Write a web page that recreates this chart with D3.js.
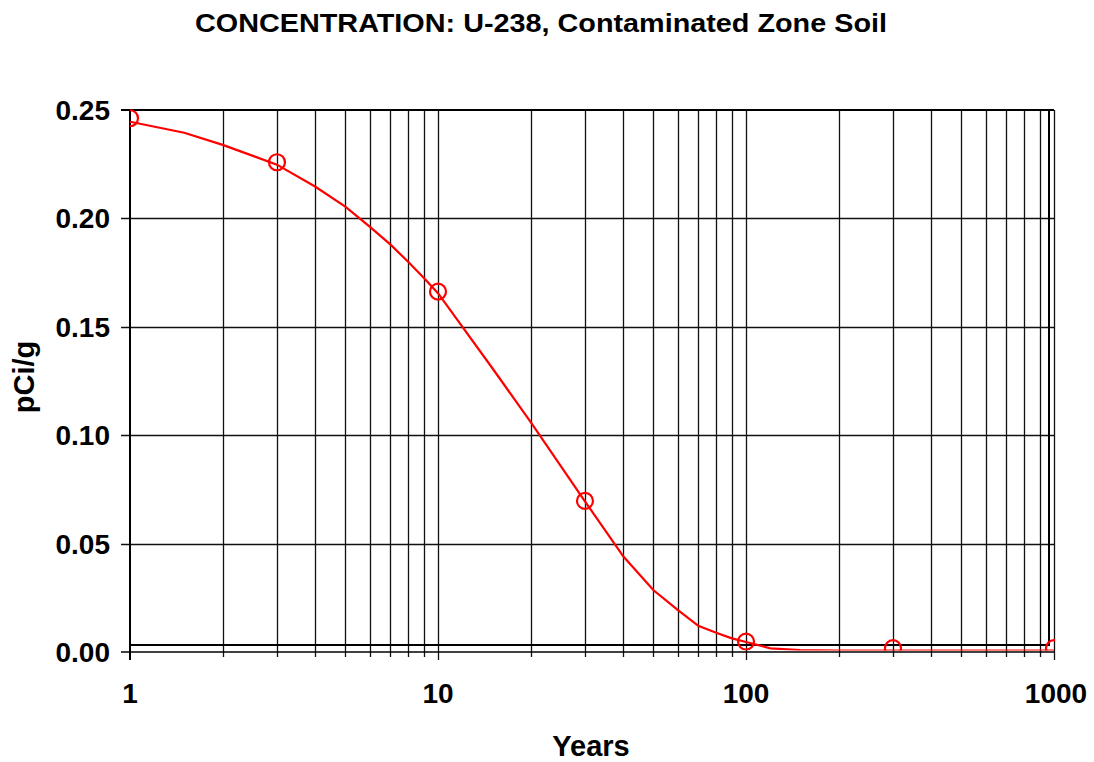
<!DOCTYPE html>
<html>
<head>
<meta charset="utf-8">
<script src="https://cdn.jsdelivr.net/npm/d3@7"></script>
<style>
  body { margin: 0; background: #fff; }
  text { font-family: "Liberation Sans", Arial, sans-serif; font-weight: bold; fill: #000; }
</style>
</head>
<body>
<svg id="chart"></svg>
<script>
// curve
const years = [1, 1.5, 2, 3, 4, 5, 6, 7, 8, 9, 10, 15, 20, 30, 40, 50, 60, 70, 80, 90, 100, 120, 150, 200, 300, 500, 1000];
const conc = [0.2446, 0.2395, 0.2339, 0.2248, 0.2146, 0.2054, 0.1962, 0.1880, 0.1800, 0.1725, 0.1655,
  0.1310, 0.1060, 0.0695, 0.0440, 0.0286, 0.0194, 0.0121, 0.0089, 0.0063, 0.0046, 0.0017, 0.0009, 0.0006,
  0.0006, 0.0006, 0.0006];

// circle markers
const markerYears = [1, 3, 10, 30, 100, 300, 1000];
const markerConc = [0.2462, 0.2259, 0.1662, 0.0697, 0.0048, 0.0018, 0.0018];

const yTicks = [0, 0.05, 0.10, 0.15, 0.20, 0.25];
const xMajor = [1, 10, 100, 1000];

class LogChart {
  margin = { top: 110, right: 40, bottom: 110, left: 130 };

  constructor(svg, width = 924, height = 542) {
    this.svg = svg;
    this.width = width;
    this.height = height;
  }

  initialize() {
    this.svg = d3.select(this.svg)
      .attr("width", 1094)
      .attr("height", 762);
    this.container = this.svg.append("g")
      .attr("transform", `translate(${this.margin.left}, ${this.margin.top})`);

    this.xScale = d3.scaleLog().domain([1, 1000]).range([0, this.width]);
    this.yScale = d3.scaleLinear().domain([0, 0.25]).range([this.height, 0]);
  }

  update() {
    const x = this.xScale, y = this.yScale, g = this.container;

    // all the log grid lines 2..9 per decade plus the decades
    const minor = [];
    [1, 10, 100].forEach(d => { for (let k = 2; k <= 9; k++) minor.push(k * d); });
    const vlines = minor.concat(xMajor.slice(1));

    g.selectAll(".vgrid")
      .data(vlines)
      .join("line")
      .attr("class", "vgrid")
      .attr("x1", d => Math.round(x(d)) + 0.5)
      .attr("x2", d => Math.round(x(d)) + 0.5)
      .attr("y1", 0)
      .attr("y2", d => this.height + (xMajor.includes(d) ? 8 : 5))
      .attr("stroke", "#111")
      .attr("stroke-width", 1.3);

    g.selectAll(".hgrid")
      .data(yTicks.slice(1, -1))
      .join("line")
      .attr("class", "hgrid")
      .attr("x1", -9)
      .attr("x2", this.width)
      .attr("y1", d => Math.round(y(d)) + 0.5)
      .attr("y2", d => Math.round(y(d)) + 0.5)
      .attr("stroke", "#111")
      .attr("stroke-width", 1.3);

    // frame (inner box) + axes
    g.append("rect")
      .attr("x", 0).attr("y", 0)
      .attr("width", this.width - 5)
      .attr("height", this.height - 7)
      .attr("fill", "none")
      .attr("stroke", "#000")
      .attr("stroke-width", 2);
    g.append("line")
      .attr("x1", -9).attr("x2", this.width)
      .attr("y1", y(0.25)).attr("y2", y(0.25))
      .attr("stroke", "#000").attr("stroke-width", 2);
    g.append("line")
      .attr("x1", -9).attr("x2", this.width)
      .attr("y1", y(0)).attr("y2", y(0))
      .attr("stroke", "#000").attr("stroke-width", 1.5);
    g.append("line")
      .attr("x1", 0).attr("x2", 0)
      .attr("y1", 0).attr("y2", this.height + 8)
      .attr("stroke", "#000").attr("stroke-width", 2);

    g.selectAll(".ylabel")
      .data(yTicks)
      .join("text")
      .attr("class", "ylabel")
      .attr("x", -20)
      .attr("y", d => y(d))
      .attr("dy", "0.36em")
      .attr("text-anchor", "end")
      .style("font-size", "28px")
      .text(d => d.toFixed(2));

    g.selectAll(".xlabel")
      .data(xMajor)
      .join("text")
      .attr("class", "xlabel")
      .attr("x", d => x(d) + (d === 1000 ? 2 : 0))
      .attr("y", this.height + 51)
      .attr("text-anchor", "middle")
      .style("font-size", "28px")
      .text(d => d);

    // data, clipped to the plot box like the original
    g.append("clipPath").attr("id", "plotclip")
      .append("rect")
      .attr("x", 0).attr("y", -2)
      .attr("width", this.width + 1).attr("height", this.height + 0.5);

    const line = d3.line()
      .x((d, i) => x(years[i]))
      .y(d => y(d));

    const plot = g.append("g").attr("clip-path", "url(#plotclip)");
    plot.append("path")
      .datum(conc)
      .attr("d", line)
      .attr("fill", "none")
      .attr("stroke", "#ff0000")
      .attr("stroke-width", 2.2);

    plot.selectAll(".dot")
      .data(markerConc)
      .join("circle")
      .attr("class", "dot")
      .attr("cx", (d, i) => x(markerYears[i]))
      .attr("cy", d => y(d))
      .attr("r", 8)
      .attr("fill", "none")
      .attr("stroke", "#ff0000")
      .attr("stroke-width", 2.2);

    // axis titles
    this.svg.append("text")
      .attr("x", 591)
      .attr("y", 756)
      .attr("text-anchor", "middle")
      .style("font-size", "29px")
      .text("Years");

    this.svg.append("text")
      .attr("transform", "translate(34, 377) rotate(-90)")
      .attr("text-anchor", "middle")
      .style("font-size", "29px")
      .text("pCi/g");
  }

  addTitle(titleText) {
    this.svg.append("text")
      .attr("class", "title")
      .attr("x", 195)
      .attr("y", 32)
      .attr("textLength", 692)
      .attr("lengthAdjust", "spacingAndGlyphs")
      .style("font-size", "25px")
      .text(titleText);
  }
}

const chart = new LogChart(document.getElementById("chart"));
chart.initialize();
chart.update();
chart.addTitle("CONCENTRATION: U-238, Contaminated Zone Soil");
</script>
</body>
</html>
